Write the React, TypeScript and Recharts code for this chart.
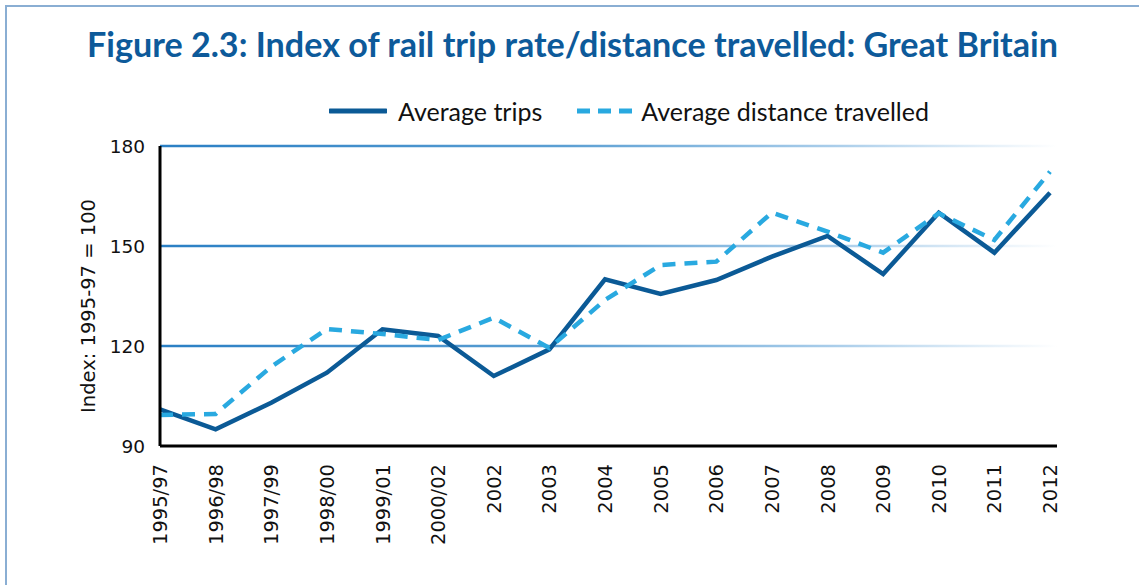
import React from "react";
import {
  LineChart, Line, XAxis, YAxis, CartesianGrid, Legend,
} from "recharts";

// Categories and index values (1995-97 = 100)
const periods = [
  "1995/97", "1996/98", "1997/99", "1998/00", "1999/01", "2000/02",
  "2002", "2003", "2004", "2005", "2006", "2007", "2008", "2009",
  "2010", "2011", "2012",
];
const averageTrips = [
  101, 95, 103, 112, 125, 123, 111, 119, 140, 135.6, 139.8, 146.8, 153,
  141.6, 160, 148, 166,
];
const averageDistance = [
  99.3, 99.6, 113.8, 125.1, 123.6, 121.8, 128.5, 119.4, 133.8, 144.3,
  145.3, 160, 154.3, 148, 159.8, 151.8, 172.3,
];
const yTicks = [90, 120, 150, 180];

const TITLE = "Figure 2.3: Index of rail trip rate/distance travelled: Great Britain";
const Y_LABEL = "Index: 1995-97 = 100";

const TRIPS_COLOUR = "#0b5a96";
const DISTANCE_COLOUR = "#29a9e0";
const TEXT_FONT = "'DejaVu Sans', sans-serif";

const data = periods.map((p, i) => ({
  period: p,
  trips: averageTrips[i],
  distance: averageDistance[i],
}));

/** Vertical tick labels reading bottom-to-top */
function PeriodTick({ x, y, payload }: any) {
  return (
    <text
      x={0}
      y={0}
      transform={`translate(${x},${y + 10}) rotate(-90)`}
      textAnchor="end"
      dy="0.36em"
      fontSize={19.5}
      fontFamily={TEXT_FONT}
      fill="#111"
    >
      {payload.value}
    </text>
  );
}

function ValueTick({ x, y, payload }: any) {
  return (
    <text
      x={x - 7}
      y={y}
      textAnchor="end"
      dy="0.36em"
      fontSize={18.5}
      fontFamily={TEXT_FONT}
      fill="#111"
    >
      {payload.value}
    </text>
  );
}

function YLabel() {
  return (
    <text
      x={0}
      y={0}
      transform="translate(88,306) rotate(-90)"
      textAnchor="middle"
      dy="0.36em"
      fontSize={19.5}
      fontFamily={TEXT_FONT}
      fill="#111"
    >
      {Y_LABEL}
    </text>
  );
}

function LegendContent() {
  const item = (dash: string | undefined, colour: string, label: string, gap: number) => (
    <div style={{ display: "flex", alignItems: "center", marginRight: 34 }}>
      <svg width={58} height={10} style={{ marginRight: gap }}>
        <line
          x1={1} y1={5} x2={57} y2={5}
          stroke={colour} strokeWidth={5}
          strokeDasharray={dash}
          strokeLinecap={dash ? "butt" : "round"}
        />
      </svg>
      <span>{label}</span>
    </div>
  );
  return (
    <div
      style={{
        display: "flex",
        paddingLeft: 329,
        fontFamily: "Lato, sans-serif",
        fontSize: 25,
        lineHeight: "30px",
        color: "#111",
      }}
    >
      {item(undefined, TRIPS_COLOUR, "Average trips", 11)}
      {item("13 8", DISTANCE_COLOUR, "Average distance travelled", 7)}
    </div>
  );
}

export default function App() {
  return (
    <div
      style={{
        position: "absolute",
        left: 0,
        top: 0,
        width: 1139,
        height: 585,
        background: "#fff",
        overflow: "hidden",
      }}
    >
      {/* frame border: only left and top edges are in view */}
      <div
        style={{
          position: "absolute",
          left: 5,
          top: 5,
          width: 1200,
          height: 700,
          borderLeft: "2px solid #8aaed3",
          borderTop: "2px solid #8aaed3",
        }}
      />
      <svg
        width={1139}
        height={80}
        style={{ position: "absolute", left: 0, top: 0 }}
      >
        <text
          x={87}
          y={57}
          textLength={971}
          lengthAdjust="spacingAndGlyphs"
          fontSize={35}
          fontWeight={700}
          fontFamily="Lato, sans-serif"
          fill="#0d5a9a"
        >
          {TITLE}
        </text>
      </svg>
      <div style={{ position: "absolute", left: 0, top: 0 }}>
        <LineChart
          width={1139}
          height={585}
          data={data}
          margin={{ top: 146, right: 82, bottom: 39, left: 100 }}
        >
          <defs>
            <linearGradient
              id="gridFade"
              gradientUnits="userSpaceOnUse"
              x1={160} y1={0} x2={1057} y2={0}
            >
              <stop offset="0%" stopColor="#2a7fc4" />
              <stop offset="45%" stopColor="#5b9fd3" />
              <stop offset="75%" stopColor="#a9cdea" />
              <stop offset="100%" stopColor="#ffffff" />
            </linearGradient>
          </defs>
          <CartesianGrid
            vertical={false}
            horizontalValues={[120, 150, 180]}
            stroke="url(#gridFade)"
            strokeWidth={2.5}
          />
          <XAxis
            dataKey="period"
            interval={0}
            height={100}
            padding={{ left: 0, right: 7 }}
            tick={<PeriodTick />}
            tickLine={false}
            axisLine={{ stroke: "#000", strokeWidth: 3 }}
          />
          <YAxis
            domain={[90, 180]}
            ticks={yTicks}
            width={60}
            tick={<ValueTick />}
            tickLine={false}
            axisLine={{ stroke: "#000", strokeWidth: 3 }}
            label={<YLabel />}
          />
          <Legend
            verticalAlign="middle"
            content={<LegendContent />}
            wrapperStyle={{ top: 96, left: 0, width: 1139 }}
          />
          <Line
            type="linear"
            dataKey="trips"
            name="Average trips"
            stroke={TRIPS_COLOUR}
            strokeWidth={4.5}
            dot={false}
            activeDot={false}
            isAnimationActive={false}
          />
          <Line
            type="linear"
            dataKey="distance"
            name="Average distance travelled"
            stroke={DISTANCE_COLOUR}
            strokeWidth={4.5}
            strokeDasharray="13 9"
            dot={false}
            activeDot={false}
            isAnimationActive={false}
          />
        </LineChart>
      </div>
    </div>
  );
}
